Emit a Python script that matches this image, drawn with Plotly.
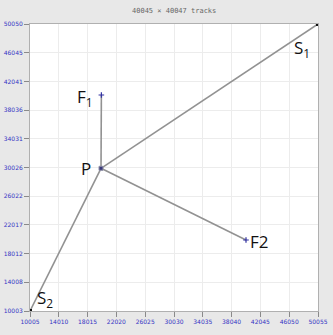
import plotly.graph_objects as go

# Track endpoints and junction (data coordinates, in tracks)
node_names = ["S1", "S2", "P", "F1", "F2"]
node_x = [50050, 10005, 19880, 19930, 40042]
node_y = [50050, 10003, 29915, 40143, 19910]

# Segments joining each terminal to the junction P
segments = [("S1", "P"), ("S2", "P"), ("F1", "P"), ("F2", "P")]

x_ticks = [10005, 14010, 18015, 22020, 26025, 30030, 34035, 38040, 42045, 46050, 50055]
y_ticks = [10003, 14008, 18012, 22017, 26022, 30026, 34031, 38036, 42041, 46045, 50050]

title_text = "40045 × 40047 tracks"

pos = {n: (x, y) for n, x, y in zip(node_names, node_x, node_y)}

fig = go.Figure()

for a, b in segments:
    fig.add_trace(go.Scatter(
        x=[pos[a][0], pos[b][0]], y=[pos[a][1], pos[b][1]],
        mode="lines", line=dict(color="#929292", width=1.6),
        hoverinfo="skip", showlegend=False))

# Source markers (black) and junction / sink markers (navy)
fig.add_trace(go.Scatter(
    x=[pos["S1"][0], pos["S2"][0]], y=[pos["S1"][1], pos["S2"][1]],
    mode="markers", marker=dict(symbol="square", size=4, color="#111111"),
    showlegend=False))
fig.add_trace(go.Scatter(
    x=[pos["P"][0]], y=[pos["P"][1]],
    mode="markers", marker=dict(symbol="square", size=4, color="#3a3a7a",
                                line=dict(color="#9090a8", width=1)),
    showlegend=False))
fig.add_trace(go.Scatter(
    x=[pos["F1"][0], pos["F2"][0]], y=[pos["F1"][1], pos["F2"][1]],
    mode="markers", marker=dict(symbol="cross-thin", size=4,
                                line=dict(color="#3030a0", width=1.2)),
    showlegend=False))

label_font = dict(family="Open Sans, DejaVu Sans", size=17, color="#111111")
labels = [
    ("S1", "S<sub>1</sub>", "right", "top", -6, -10),
    ("S2", "S<sub>2</sub>", "left", "bottom", 5, -2),
    ("P", "P", "right", "middle", -8, 0),
    ("F1", "F<sub>1</sub>", "right", "middle", -6, -2),
    ("F2", "F2", "left", "middle", 2, -1),
]
for key, txt, xa, ya, dx, dy in labels:
    fig.add_annotation(
        x=pos[key][0], y=pos[key][1], text=txt, showarrow=False,
        xanchor=xa, yanchor=ya, xshift=dx, yshift=dy, font=label_font)

fig.add_annotation(
    x=0.5, y=1.0, xref="paper", yref="paper", yanchor="bottom", yshift=7,
    text=title_text, showarrow=False,
    font=dict(family="DejaVu Sans Mono, monospace", size=7, color="#666666"))

tick_font = dict(family="DejaVu Sans, Arial", size=6, color="#3535c4")
axis_common = dict(
    showgrid=True, gridcolor="#ececec", gridwidth=1,
    ticks="outside", ticklen=5, tickcolor="#8a8a8a", tickwidth=1,
    showline=True, linecolor="#b0b0b0", linewidth=1, mirror=True,
    zeroline=False, tickfont=tick_font, fixedrange=True, automargin=False,
)

fig.update_xaxes(range=[x_ticks[0], x_ticks[-1]], tickvals=x_ticks,
                 ticktext=[str(v) for v in x_ticks], **axis_common)
fig.update_yaxes(range=[y_ticks[0], y_ticks[-1]], tickvals=y_ticks,
                 ticktext=[str(v) for v in y_ticks], **axis_common)

fig.update_layout(
    width=333, height=335,
    margin=dict(l=30, r=15, t=24, b=24),
    paper_bgcolor="#e8e8e8", plot_bgcolor="#ffffff",
    showlegend=False,
)

fig.write_html("out.html")
